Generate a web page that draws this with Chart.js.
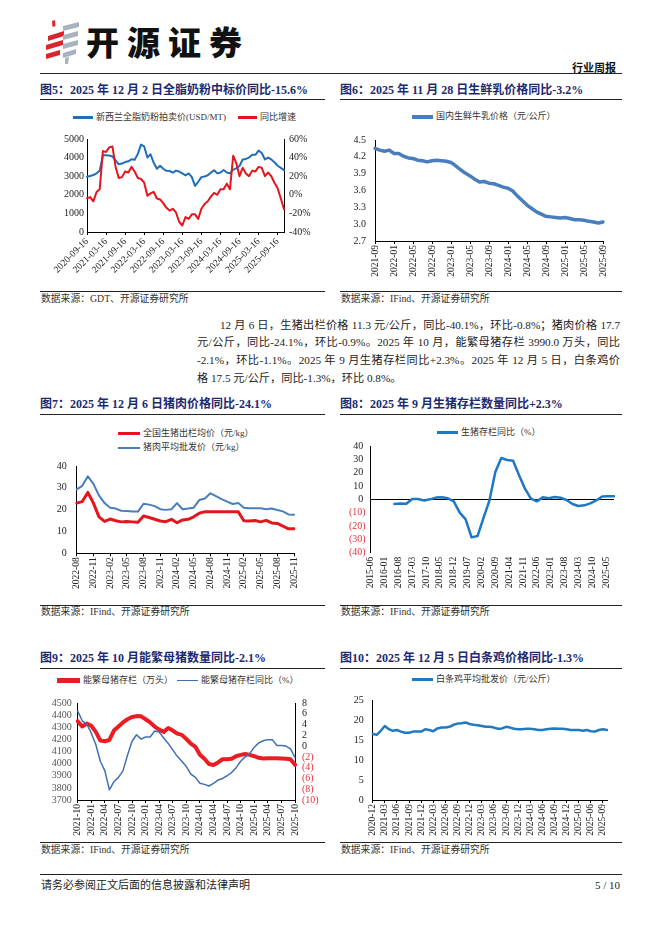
<!DOCTYPE html>
<html>
<head>
<meta charset="utf-8">
<script src="https://cdn.jsdelivr.net/npm/chart.js@4.4.1/dist/chart.umd.min.js"></script>
<style>
  body { margin: 0; width: 662px; height: 936px; background: #fff; position: relative; overflow: hidden;
         font-family: 'Liberation Serif', 'Noto Sans CJK SC', serif; color: #222; }
  .abs { position: absolute; white-space: nowrap; }
  .rule { position: absolute; height: 0; border-top: 1.3px solid #222; }
  .title { font-weight: bold; font-size: 12px; line-height: 14px; color: #1c2a70; }
  .src { font-size: 9.8px; line-height: 12px; color: #333; }
  .leg { font-size: 9px; line-height: 11px; display: flex; align-items: center; color: #333; }
  .leg i { display: inline-block; margin-right: 3px; }
  .para { font-size: 11.2px; line-height: 14px; text-align: justify; text-align-last: justify; color: #222; }
  .box { position: absolute; }
</style>
</head>
<body>

<svg class="abs" style="left:44px;top:20px" width="38" height="44" viewBox="0 0 38 44">
  <g fill="#d9262c">
    <polygon points="8,1 11,0 11.5,6 8.5,7"/>
    <polygon points="4,16 20,11 20,16 4,21"/>
    <polygon points="2,25 19,20 19,25 2,30"/>
    <polygon points="2,34 16,30 16,35 2,39"/>
  </g>
  <g fill="#a7b4c0">
    <polygon points="19,6 35,2 35,7 19,11"/>
    <polygon points="19,15 34,11 34,16 19,20"/>
    <polygon points="19,24 34,20 34,25 19,29"/>
    <polygon points="19,33 32,29 32,34 19,38"/>
    <polygon points="21,38 25,37 24,44 21,44"/>
  </g>
</svg>
<div class="abs" style="left:86px;top:23px;font-family:'Noto Sans CJK SC';font-weight:900;font-size:33px;line-height:36px;letter-spacing:8px;color:#111">开源证券</div>
<div class="abs" style="right:46px;top:61px;font-family:'Noto Sans CJK SC';font-weight:bold;font-size:11px;line-height:12px;color:#111">行业周报</div>
<div class="rule" style="left:40px;top:73px;width:582px"></div>

<div class="abs title" style="left:40px;top:83px">图5：2025 年 12 月 2 日全脂奶粉中标价同比-15.6%</div>
<div class="rule" style="left:40px;top:99px;width:285px"></div>
<div class="abs title" style="left:340px;top:83px">图6：2025 年 11 月 28 日生鲜乳价格同比-3.2%</div>
<div class="rule" style="left:340px;top:99px;width:282px"></div>

<div class="abs leg" style="left:73px;top:112px"><i style="width:20px;height:2.5px;background:#1f6fb6"></i>新西兰全脂奶粉拍卖价(USD/MT)</div>
<div class="abs leg" style="left:238px;top:112px"><i style="width:19px;height:2.5px;background:#e3161d"></i>同比增速</div>
<div class="abs leg" style="left:412px;top:111px"><i style="width:21px;height:4px;background:#4a7dbb"></i>国内生鲜牛乳价格（元/公斤）</div>

<div class="box" style="left:40px;top:128px;width:280px;height:152px"><canvas id="c5"></canvas></div>
<div class="box" style="left:335px;top:125px;width:290px;height:160px"><canvas id="c6"></canvas></div>

<div class="rule" style="left:40px;top:291px;width:285px"></div>
<div class="rule" style="left:340px;top:291px;width:282px"></div>
<div class="abs src" style="left:41px;top:293px">数据来源：GDT、开源证券研究所</div>
<div class="abs src" style="left:341px;top:293px">数据来源：IFind、开源证券研究所</div>

<div class="abs para" style="left:220px;top:318px;width:400px">12 月 6 日，生猪出栏价格 11.3 元/公斤，同比-40.1%，环比-0.8%；猪肉价格 17.7</div>
<div class="abs para" style="left:197px;top:335px;width:423px">元/公斤，同比-24.1%，环比-0.9%。2025 年 10 月，能繁母猪存栏 3990.0 万头，同比</div>
<div class="abs para" style="left:197px;top:353px;width:423px">-2.1%，环比-1.1%。2025 年 9 月生猪存栏同比+2.3%。2025 年 12 月 5 日，白条鸡价</div>
<div class="abs para" style="left:197px;top:371px;text-align-last:left">格 17.5 元/公斤，同比-1.3%，环比 0.8%。</div>

<div class="abs title" style="left:40px;top:397px">图7：2025 年 12 月 6 日猪肉价格同比-24.1%</div>
<div class="rule" style="left:40px;top:414px;width:285px"></div>
<div class="abs title" style="left:340px;top:397px">图8：2025 年 9 月生猪存栏数量同比+2.3%</div>
<div class="rule" style="left:340px;top:414px;width:282px"></div>

<div class="abs leg" style="left:118px;top:428px"><i style="width:22px;height:3px;background:#e3161d"></i>全国生猪出栏均价（元/kg）</div>
<div class="abs leg" style="left:118px;top:442px"><i style="width:22px;height:2px;background:#4a7dbb"></i>猪肉平均批发价（元/kg）</div>
<div class="abs leg" style="left:437px;top:427px"><i style="width:21px;height:2.5px;background:#1f78c1"></i>生猪存栏同比（%）</div>

<div class="box" style="left:40px;top:450px;width:270px;height:145px"><canvas id="c7"></canvas></div>
<div class="box" style="left:335px;top:435px;width:290px;height:165px"><canvas id="c8"></canvas></div>

<div class="rule" style="left:40px;top:605px;width:285px"></div>
<div class="rule" style="left:340px;top:605px;width:282px"></div>
<div class="abs src" style="left:41px;top:606px">数据来源：IFind、开源证券研究所</div>
<div class="abs src" style="left:341px;top:606px">数据来源：IFind、开源证券研究所</div>

<div class="abs title" style="left:40px;top:651px">图9：2025 年 10 月能繁母猪数量同比-2.1%</div>
<div class="rule" style="left:40px;top:668px;width:285px"></div>
<div class="abs title" style="left:340px;top:651px">图10：2025 年 12 月 5 日白条鸡价格同比-1.3%</div>
<div class="rule" style="left:340px;top:668px;width:282px"></div>

<div class="abs leg" style="left:57px;top:675px"><i style="width:23px;height:5px;background:#ec1c24"></i>能繁母猪存栏（万头）</div>
<div class="abs leg" style="left:177px;top:675px"><i style="width:21px;height:1.5px;background:#3f70b2"></i>能繁母猪存栏同比（%）</div>
<div class="abs leg" style="left:412px;top:674px"><i style="width:21px;height:3px;background:#1f7bc1"></i>白条鸡平均批发价（元/公斤）</div>

<div class="box" style="left:40px;top:690px;width:285px;height:148px"><canvas id="c9"></canvas></div>
<div class="box" style="left:335px;top:685px;width:290px;height:153px"><canvas id="c10"></canvas></div>

<div class="rule" style="left:40px;top:842px;width:285px"></div>
<div class="rule" style="left:340px;top:842px;width:282px"></div>
<div class="abs src" style="left:41px;top:844px">数据来源：IFind、开源证券研究所</div>
<div class="abs src" style="left:341px;top:844px">数据来源：IFind、开源证券研究所</div>

<div class="rule" style="left:40px;top:874px;width:582px"></div>
<div class="abs" style="left:41px;top:878px;font-size:11px;line-height:14px">请务必参阅正文后面的信息披露和法律声明</div>
<div class="abs" style="right:42px;top:878px;font-size:11px;line-height:14px">5 / 10</div>

<script>
// fig 5: GDT whole milk powder, monthly readings 2020-09 .. 2025-11
const wmpTicks = ['2020-09-16', '2021-03-16', '2021-09-16', '2022-03-16', '2022-09-16', '2023-03-16',
  '2023-09-16', '2024-03-16', '2024-09-16', '2025-03-16', '2025-09-16'];
const wmpPrice = [2970, 3010, 3060, 3150, 3300, 4120, 4130, 4110, 4060, 3850, 3640, 3680, 3760, 3800, 3910, 3880,
  4200, 4700, 4600, 4000, 4180, 3720, 3400, 3560, 3400, 3290, 3280, 3190, 3300, 3250, 3150, 3050, 3150, 2950,
  2480, 2700, 2950, 2980, 3050, 3190, 3320, 3150, 3200, 3330, 3200, 3150, 3350, 3420, 3550, 3900, 3930, 4000,
  4150, 4150, 4380, 4250, 3900, 4000, 3900, 3750, 3560, 3450, 3330];
const wmpYoY = [-3.8, -2.5, -7, 3, 6, 47, 46, 51, 52, 30, 18, 19, 25, 24, 30, 25, 18, 17, 13, -1, 1.5, 3, -4, -5,
  -9, -14, -17, -15, -19, -29, -33, -24, -26, -21, -21, -26, -15, -10, -7, -2, 2, 0, 6, 6, 12, 6, 42, 34, 20, 29,
  23, 20, 26, 25, 30, 29, 20, 24, 20, 13, 7, -4, -15.6];

// fig 6: raw milk price (yuan/kg), 2021-09 .. 2025-09
const milkTicks = ['2021-09', '2022-01', '2022-05', '2022-09', '2023-01', '2023-05', '2023-09',
  '2024-01', '2024-05', '2024-09', '2025-01', '2025-05', '2025-09'];
const milkPrice = [4.35, 4.32, 4.30, 4.32, 4.26, 4.26, 4.21, 4.18, 4.17, 4.14, 4.13, 4.11, 4.13, 4.14, 4.13, 4.12,
  4.10, 4.04, 3.97, 3.91, 3.86, 3.80, 3.75, 3.76, 3.73, 3.72, 3.69, 3.66, 3.64, 3.59, 3.50, 3.42, 3.34, 3.28,
  3.22, 3.18, 3.14, 3.13, 3.12, 3.11, 3.12, 3.10, 3.08, 3.08, 3.07, 3.05, 3.04, 3.02, 3.04];

// fig 7: hog and pork prices (yuan/kg), 2022-08 .. 2025-11
const hogTicks = ['2022-08', '2022-11', '2023-02', '2023-05', '2023-08', '2023-11', '2024-02',
  '2024-05', '2024-08', '2024-11', '2025-02', '2025-05', '2025-08', '2025-11'];
const hogPrice = [23, 23.7, 27.9, 23, 16.7, 14.6, 15.7, 14.9, 14.4, 14.6, 14.4, 14.2, 17.1, 16.4, 15.6, 14.8, 14.5,
  15.6, 14.0, 15.3, 15.6, 16.7, 18.4, 19, 19, 19, 19, 19, 19, 19, 14.9, 14.8, 15, 14.4, 15.1, 13.9, 13.7, 12.5,
  11.2, 11.3];
const porkPrice = [29.3, 30.9, 35.3, 31.8, 26.5, 23, 20.9, 20.5, 19.5, 19.4, 19.1, 19.1, 22.7, 22.3, 21.6, 20.2,
  19.9, 20.2, 23, 20.2, 20.5, 20.9, 24.4, 25.1, 27.5, 26.2, 24.8, 23.7, 22.6, 23, 20.9, 20.6, 20.6, 20.6, 20.2,
  20.5, 19.8, 19.2, 17.8, 17.7];

// fig 8: hog inventory YoY (%), quarterly
const stockTicks = ['2015-06', '2016-01', '2016-08', '2017-03', '2017-10', '2018-05', '2018-12', '2019-07',
  '2020-02', '2020-09', '2021-04', '2021-11', '2022-06', '2023-01', '2023-08', '2024-03', '2024-10', '2025-05'];
const stockQuarters = ['2016-06', '2016-09', '2016-12', '2017-03', '2017-06', '2017-09', '2017-12', '2018-03',
  '2018-06', '2018-09', '2018-12', '2019-03', '2019-06', '2019-09', '2019-12', '2020-03', '2020-06', '2020-09',
  '2020-12', '2021-03', '2021-06', '2021-09', '2021-12', '2022-03', '2022-06', '2022-09', '2022-12', '2023-03',
  '2023-06', '2023-09', '2023-12', '2024-03', '2024-06', '2024-09', '2024-12', '2025-03', '2025-06', '2025-09'];
const stockYoY = [-3.5, -3.2, -3.3, 0.3, 0.2, -0.8, 0, 1.3, 1.5, 0.8, -1.5, -10, -15, -28.5, -27.5, -14, -1, 20.5,
  31, 29.5, 29, 18, 8, 0.5, -1.5, 1.5, 0.8, 1.8, 1.2, -0.5, -3.5, -5, -4.5, -3, -0.8, 2.2, 2.3, 2.3];

// fig 9: breeding sows (10k head) and YoY (%), 2021-10 .. 2025-10
const sowTicks = ['2021-10', '2022-01', '2022-04', '2022-07', '2022-10', '2023-01', '2023-04', '2023-07',
  '2023-10', '2024-01', '2024-04', '2024-07', '2024-10', '2025-01', '2025-04', '2025-07', '2025-10'];
const sowStock = [4350, 4306, 4330, 4312, 4262, 4190, 4185, 4195, 4273, 4306, 4340, 4366, 4384, 4392, 4390,
  4366, 4340, 4306, 4280, 4262, 4294, 4273, 4247, 4237, 4203, 4165, 4139, 4074, 4040, 3997, 3989, 4010, 4036,
  4036, 4040, 4061, 4072, 4079, 4072, 4061, 4048, 4043, 4045, 4045, 4045, 4043, 4040, 4036, 3990];
const sowYoY = [6.5, 4.7, 4.1, 2.4, 0.3, -2.8, -4.6, -8.1, -6.6, -5.8, -4.6, -1.7, 0.9, 2.1, 1.3, 1.7, 1.7, 2.8,
  2.6, 1.5, 0.5, -0.7, -1.9, -2.8, -3.8, -5.2, -5.8, -6.9, -7.1, -7.4, -6.9, -6.3, -6, -5.5, -4.9, -4, -2.8, -2,
  -1.4, -0.2, 0.6, 1, 1.2, 1.2, 0.1, 0.1, 0, -0.5, -2.1];

// fig 10: white-strip chicken wholesale price (yuan/kg), 2020-12 .. 2025-10
const chickenTicks = ['2020-12', '2021-03', '2021-06', '2021-09', '2021-12', '2022-03', '2022-06', '2022-09',
  '2022-12', '2023-03', '2023-06', '2023-09', '2023-12', '2024-03', '2024-06', '2024-09', '2024-12',
  '2025-03', '2025-06', '2025-09'];
const chickenPrice = [16.5, 16.3, 17.3, 18.5, 17.7, 17.3, 17.5, 17.1, 16.8, 16.8, 17.1, 17.1, 17.1, 17.7, 17.5,
  17.2, 17.9, 18.1, 18.1, 18.3, 18.8, 19.1, 19.2, 19.4, 19.0, 18.8, 18.7, 18.5, 18.3, 18.3, 18.1, 17.8, 17.9,
  18.3, 18.1, 17.8, 17.7, 17.7, 17.8, 17.8, 17.7, 17.5, 17.5, 17.7, 17.8, 17.9, 17.8, 17.8, 17.7, 17.5, 17.5,
  17.5, 17.3, 17.5, 17.2, 17.1, 17.5, 17.7, 17.5];

const serif = "'Liberation Serif', 'Times New Roman', serif";
const tickFont = { family: serif, size: 10 };
const dateFont = { family: serif, size: 9.5 };
const NEG_RED = '#e8333a';

const monthRange = (from, to) => {
  const out = [];
  let [y, m] = from.split('-').map(Number);
  const [ty, tm] = to.split('-').map(Number);
  while (y < ty || (y === ty && m <= tm)) {
    out.push(`${y}-${String(m).padStart(2, '0')}`);
    m += 1;
    if (m > 12) { m = 1; y += 1; }
  }
  return out;
};

const dateAxis = (tickLabels, height, rotation, plain) => ({
  type: 'category',
  offset: false,
  afterFit: (axis) => { axis.height = height; },
  afterBuildTicks: (axis) => {
    axis.ticks = axis.ticks.filter((t) => tickLabels.includes(axis.getLabelForValue(t.value)));
  },
  grid: plain ? { display: false, drawTicks: false } : { drawOnChartArea: false, tickLength: 3, color: '#000' },
  border: { display: !plain, color: '#000' },
  ticks: { autoSkip: false, minRotation: rotation, maxRotation: rotation, font: dateFont, color: '#222',
    padding: plain ? 4 : 1 },
});

const valueAxis = (position, min, max, stepSize, width, padding, ticks = {}) => ({
  position, min, max,
  afterFit: (axis) => { axis.width = width; },
  grid: { display: false, drawTicks: false },
  border: { color: '#000' },
  ticks: { stepSize, autoSkip: false, font: tickFont, color: '#222', padding, callback: (v) => `${v}`, ...ticks },
});

const negParen = { callback: (v) => (v < 0 ? `(${-v})` : `${v}`), color: (ctx) => (ctx.tick.value < 0 ? NEG_RED : '#222') };

const line = (data, color, width, yAxisID = 'y') => ({
  data, borderColor: color, backgroundColor: color, borderWidth: width, yAxisID,
  pointRadius: 0, tension: 0, borderJoinStyle: 'round', borderCapStyle: 'round',
});

const makeChart = (id, labels, datasets, scales, padding) => new Chart(document.getElementById(id), {
  type: 'line',
  data: { labels, datasets },
  options: {
    responsive: true,
    maintainAspectRatio: false,
    animation: false,
    layout: { padding: { left: 0, bottom: 0, top: 0, right: 0, ...padding } },
    plugins: { legend: { display: false }, tooltip: { enabled: false } },
    scales,
  },
});

makeChart('c5', monthRange('2020-09', '2025-11').map((m) => `${m}-16`), [
  line(wmpYoY, '#e3161d', 2, 'y1'),
  line(wmpPrice, '#1f6fb6', 2),
], {
  x: dateAxis(wmpTicks, 48, 45),
  y: valueAxis('left', 0, 5000, 1000, 47, 3),
  y1: valueAxis('right', -40, 60, 20, 36, 5, { callback: (v) => `${v}%` }),
}, { top: 7 });

makeChart('c6', monthRange('2021-09', '2025-09'), [
  line(milkPrice, '#4a7dbb', 3.5),
], {
  x: dateAxis(milkTicks, 44, 90),
  y: valueAxis('left', 2.7, 4.5, 0.3, 40, 9, { callback: (v) => Number(v).toFixed(1) }),
}, { top: 6.7, right: 22 });

makeChart('c7', monthRange('2022-08', '2025-11'), [
  line(hogPrice, '#e3161d', 3),
  line(porkPrice, '#4a7dbb', 2),
], {
  x: dateAxis(hogTicks, 41.7, 90),
  y: valueAxis('left', 0, 40, 10, 36.7, 10),
}, { top: 7.7, right: 16 });

const stockAxis = valueAxis('left', -40, 40, 10, 35.7, 5, {
  callback: (v) => (v < 0 ? `(${-v})` : `${v} `),
  color: negParen.color,
});
stockAxis.grid = { display: true, drawTicks: false, color: (ctx) => (ctx.tick && ctx.tick.value === 0 ? '#000' : 'rgba(0,0,0,0)') };
makeChart('c8', monthRange('2015-06', '2025-09'), [
  line(stockQuarters.map((q, i) => ({ x: q, y: stockYoY[i] })), '#1f78c1', 2.5),
], {
  x: dateAxis(stockTicks, 47.3, 90, true),
  y: stockAxis,
}, { top: 8.3, right: 11 });

makeChart('c9', monthRange('2021-10', '2025-10'), [
  line(sowYoY, '#3f70b2', 1.5, 'y1'),
  line(sowStock, '#ec1c24', 4),
], {
  x: dateAxis(sowTicks, 38, 90),
  y: valueAxis('left', 3700, 4500, 100, 37.7, 6, { color: '#555' }),
  y1: valueAxis('right', -10, 8, 2, 30, 7, negParen),
}, { top: 6.7 });

makeChart('c10', monthRange('2020-12', '2025-10'), [
  line(chickenPrice, '#1f7bc1', 2.5),
], {
  x: dateAxis(chickenTicks, 38, 90),
  y: valueAxis('left', 0, 25, 5, 37.7, 9),
}, { top: 6.7, right: 18 });
</script>
</body>
</html>
